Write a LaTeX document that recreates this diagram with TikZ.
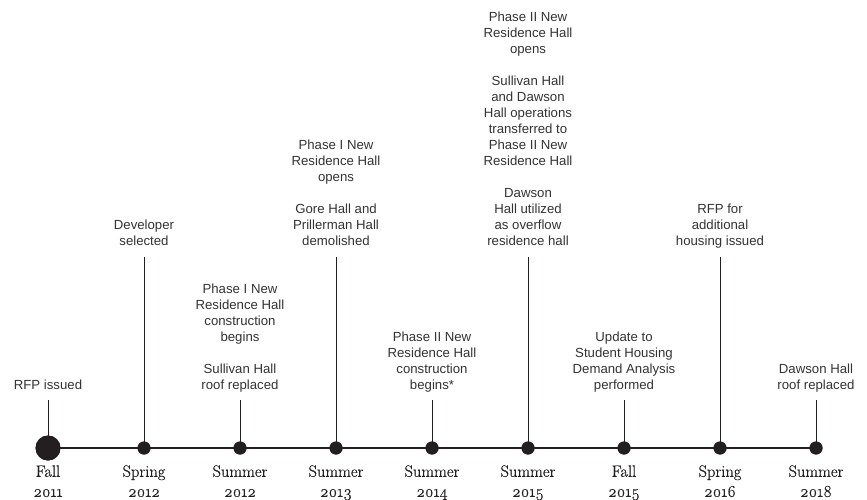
\documentclass[tikz,border=0pt]{standalone}
\usepackage{fontspec}
\newfontfamily\labfont{Liberation Sans}
\newfontfamily\datefont{Latin Modern Roman}[Numbers=OldStyle, FakeBold=0.6]
\definecolor{ink}{HTML}{231F20}
\definecolor{txt}{HTML}{333333}
\begin{document}
\begin{tikzpicture}[x=1pt,y=-1pt,
  lab/.style={font=\labfont\fontsize{13.2}{16}\selectfont, text=txt, align=center, inner sep=0pt, text depth=0pt, anchor=south},
  datelab/.style={font=\datefont\fontsize{16.5}{20}\selectfont, text=ink, align=center, inner sep=0pt, text depth=0pt, anchor=south},
  dot/.style={circle, fill=ink, inner sep=0pt, minimum size=13pt},
  bigdot/.style={circle, fill=ink, inner sep=0pt, minimum size=25pt},
  axis/.style={draw=ink, line width=1.4pt},
  stem/.style={draw=ink, line width=1pt}]
\useasboundingbox[fill=white] (0,0) rectangle (867,500);
% axis dots
\node[bigdot] (d0) at (48,448) {};
\node[dot] (d1) at (144,448) {};
\node[dot] (d2) at (240,448) {};
\node[dot] (d3) at (336,448) {};
\node[dot] (d4) at (432,448) {};
\node[dot] (d5) at (528,448) {};
\node[dot] (d6) at (624,448) {};
\node[dot] (d7) at (720,448) {};
\node[dot] (d8) at (816,448) {};
% labels
\node[lab] (l0) at (48,389.3) {RFP issued};
\node[lab] (l1) at (144,245.7) {Developer\\selected};
\node[lab] (l2) at (240,389.3) {Phase I New\\Residence Hall\\construction\\begins\\[16pt]Sullivan Hall\\roof replaced};
\node[lab] (l3) at (336,245.7) {Phase I New\\Residence Hall\\opens\\[16pt]Gore Hall and\\Prillerman Hall\\demolished};
\node[lab] (l4) at (432,389.3) {Phase II New\\Residence Hall\\construction\\begins*};
\node[lab] (l5) at (528,245.7) {Phase II New\\Residence Hall\\opens\\[16pt]Sullivan Hall\\and Dawson\\Hall operations\\transferred to\\Phase II New\\Residence Hall\\[16pt]Dawson\\Hall utilized\\as overflow\\residence hall};
\node[lab] (l6) at (624,389.3) {Update to\\Student Housing\\Demand Analysis\\performed};
\node[lab] (l7) at (720,245.7) {RFP for\\additional\\housing issued};
\node[lab] (l8) at (816,389.3) {Dawson Hall\\roof replaced};
% stems
\foreach \i in {0,2,4,6,8} {\draw[stem] (d\i.center) -- ([yshift=-10.7pt]l\i.south);}
\foreach \i in {1,3,5,7} {\draw[stem] (d\i.center) -- ([yshift=-11.3pt]l\i.south);}
% axis
\draw[axis] (d0.center) -- (d1.center) -- (d2.center) -- (d3.center) -- (d4.center) -- (d5.center) -- (d6.center) -- (d7.center) -- (d8.center);
% redraw dots on top
\foreach \i in {1,...,8} {\fill[ink] (d\i.center) circle (6.5pt);}
\fill[ink] (d0.center) circle (12.5pt);
% dates
\node[datelab] (t0) at (48,497) {Fall\\2011};
\node[datelab] (t1) at (144,497) {Spring\\2012};
\node[datelab] (t2) at (240,497) {Summer\\2012};
\node[datelab] (t3) at (336,497) {Summer\\2013};
\node[datelab] (t4) at (432,497) {Summer\\2014};
\node[datelab] (t5) at (528,497) {Summer\\2015};
\node[datelab] (t6) at (624,497) {Fall\\2015};
\node[datelab] (t7) at (720,497) {Spring\\2016};
\node[datelab] (t8) at (816,497) {Summer\\2018};
\end{tikzpicture}
\end{document}
